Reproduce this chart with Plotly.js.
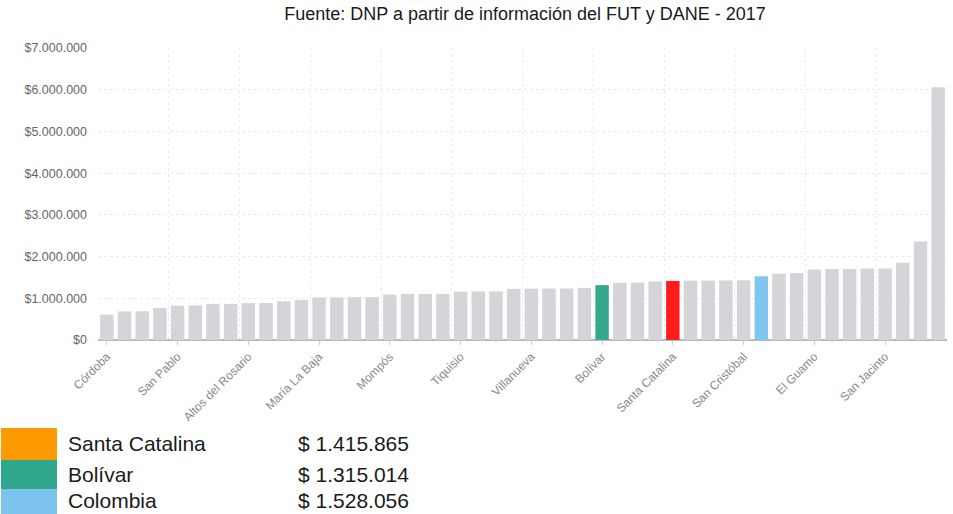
<!DOCTYPE html>
<html><head><meta charset="utf-8">
<script src="https://cdn.plot.ly/plotly-3.0.1.min.js"></script>
<style>html,body{margin:0;padding:0;background:#fff}#chart{width:953px;height:514px}</style>
</head><body><div id="chart"></div>
<script>
// Municipal values (COP), sorted ascending
const values = [610000, 685000, 690000, 765000, 820000, 830000, 860000, 865000, 885000, 885000,
  930000, 960000, 1020000, 1020000, 1025000, 1030000, 1090000, 1105000, 1105000, 1105000,
  1160000, 1165000, 1165000, 1225000, 1230000, 1235000, 1235000, 1250000, 1315014, 1370000,
  1375000, 1405000, 1415865, 1425000, 1425000, 1428000, 1430000, 1528056, 1590000, 1605000,
  1690000, 1700000, 1700000, 1715000, 1715000, 1850000, 2360000, 6060000];
// Labelled categories (every 4th bar)
const tickLabels = ["Córdoba", "San Pablo", "Altos del Rosario", "María La Baja", "Mompós", "Tiquisio",
  "Villanueva", "Bolívar", "Santa Catalina", "San Cristóbal", "El Guamo", "San Jacinto"];
const tickPositions = [0, 4, 8, 12, 16, 20, 24, 28, 32, 36, 40, 44];
// Highlighted bars
const highlightPos = [28, 32, 37];
const highlightColors = ["#33a88c", "#ff1c1c", "#7fc7f0"];
// Legend box
const legendNames = ["Santa Catalina", "Bolívar", "Colombia"];
const legendValues = [1415865, 1315014, 1528056];
const legendColors = ["#ff9900", "#2fa88d", "#7cc4ee"];

const baseColor = "#d5d4d9";
const xs = values.map((v, i) => i);
const colors = values.map((v, i) => {
  const k = highlightPos.indexOf(i);
  return k >= 0 ? highlightColors[k] : baseColor;
});
const gridVals = [];
for (let g = -0.5; g <= values.length - 0.5; g += 4) gridVals.push(g);

const L = 98, W = 849, T = 48, H = 292;
const px = x => (x - L) / W;
const py = y => (T + H - y) / H;
const fmt = v => "$ " + String(v).replace(/\B(?=(\d{3})+(?!\d))/g, ".");

const rowTop = [428, 460, 489], rowBot = [460, 489, 514], rowMid = [443, 474, 501];
const shapes = legendNames.map((n, i) => ({
  type: "rect", xref: "paper", yref: "paper", layer: "above",
  x0: px(1), x1: px(57), y0: py(rowBot[i]), y1: py(rowTop[i]),
  fillcolor: legendColors[i], line: {width: 0}
}));
const annotations = [];
const legFont = {family: "Liberation Sans, Arial, sans-serif", size: 21, color: "#1a1a1a"};
legendNames.forEach((n, i) => {
  annotations.push({xref: "paper", yref: "paper", x: px(66), y: py(rowMid[i]), xanchor: "left", yanchor: "middle",
    text: n, showarrow: false, font: legFont});
  annotations.push({xref: "paper", yref: "paper", x: px(296), y: py(rowMid[i]), xanchor: "left", yanchor: "middle",
    text: fmt(legendValues[i]), showarrow: false, font: legFont});
});

const data = [{
  type: "bar", x: xs, y: values, marker: {color: colors, line: {width: 0}},
  hoverinfo: "x+y"
}];

const layout = {
  width: 953, height: 514,
  margin: {l: L, r: 953 - L - W, t: T, b: 514 - T - H},
  paper_bgcolor: "#fff", plot_bgcolor: "#fff",
  separators: ",.",
  bargap: 0.24,
  showlegend: false,
  font: {family: "Liberation Sans, Arial, sans-serif"},
  title: {text: "Fuente: DNP a partir de información del FUT y DANE - 2017",
    x: 525 / 953, xanchor: "center", y: 1 - 14 / 514, yanchor: "middle",
    font: {size: 18, color: "#1a1a1a"}},
  xaxis: {
    range: [-0.5, values.length - 0.5], tickmode: "array", tickvals: tickPositions, ticktext: tickLabels,
    tickangle: -45, tickfont: {size: 12, color: "#888"}, ticks: "outside", ticklen: 4, tickcolor: "#ccc",
    showgrid: false, zeroline: false, showline: false, fixedrange: true,
    minor: {tickmode: "array", tickvals: gridVals, showgrid: true, gridcolor: "#f1e6f1", griddash: "dot", gridwidth: 1, ticklen: 0}
  },
  yaxis: {
    range: [0, 7000000], dtick: 1000000, tick0: 0, tickprefix: "$", tickformat: ",d",
    tickfont: {size: 12.5, color: "#666"}, ticklabelstandoff: 10,
    showgrid: true, gridcolor: "#f1e6f1", griddash: "dot", gridwidth: 1,
    zeroline: true, zerolinecolor: "#b8b8c0", zerolinewidth: 2, showline: false, fixedrange: true
  },
  shapes: shapes,
  annotations: annotations
};
Plotly.newPlot("chart", data, layout, {displayModeBar: false, staticPlot: true});
</script></body></html>
